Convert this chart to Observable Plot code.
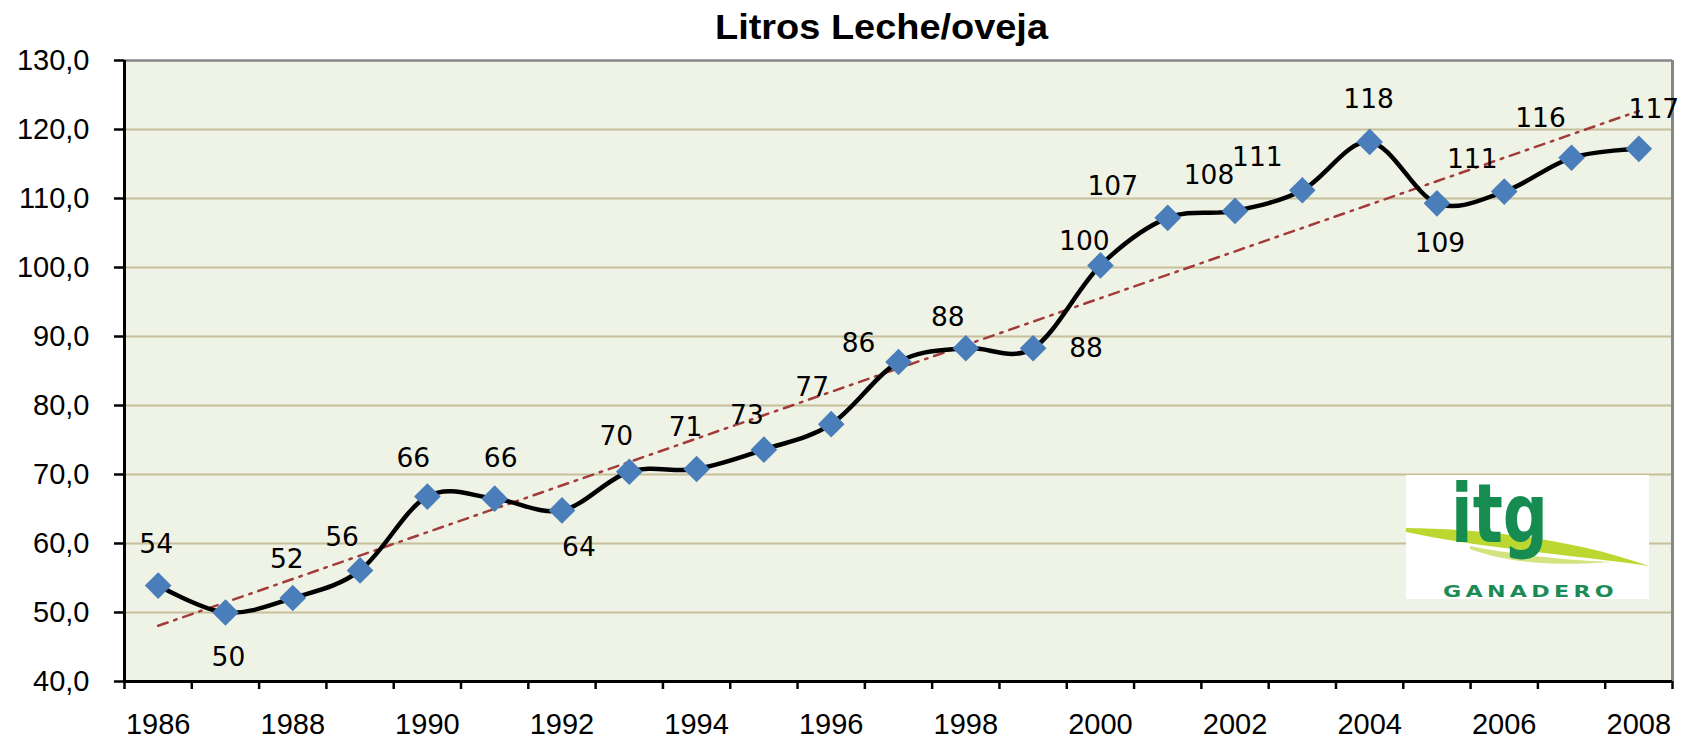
<!DOCTYPE html>
<html><head><meta charset="utf-8">
<script src="https://cdn.jsdelivr.net/npm/d3@7"></script>
<script src="https://cdn.jsdelivr.net/npm/@observablehq/plot@0.6"></script>
<style>
html,body{margin:0;padding:0;background:#fff;}
#wrap{position:relative;width:1684px;height:741px;overflow:hidden;}
#logo{position:absolute;left:0;top:0;pointer-events:none;}
</style></head><body><div id="wrap"></div>
<script>
const title = "Litros Leche/oveja";
const years = [1986,1987,1988,1989,1990,1991,1992,1993,1994,1995,1996,1997,1998,1999,2000,2001,2002,2003,2004,2005,2006,2007,2008];
const litros = [53.9,50.0,52.1,56.1,66.8,66.5,64.8,70.4,70.8,73.6,77.3,86.3,88.3,88.3,100.3,107.2,108.2,111.2,118.2,109.3,111.0,115.9,117.2];
const labels = ["54","50","52","56","66","66","64","70","71","73","77","86","88","88","100","107","108","111","118","109","111","116","117"];
const labelDx = [-2,3,-6,-18,-14,6,17,-13,-11,-17,-19,-40,-18,53,-16,-55,-26,-45,-1,3,-32,-31,15];
const labelDy = [-41,45,-38,-33,-38,-40,37,-35,-41,-34,-37,-19,-31,0,-24,-31,-35,-33,-42,40,-32,-39,-39];
const yTicks = [40,50,60,70,80,90,100,110,120,130];
const xLabelYears = [1986,1988,1990,1992,1994,1996,1998,2000,2002,2004,2006,2008];

const data = years.map((year, i) => ({year, value: litros[i], label: labels[i]}));
const boundaries = years.map(y => y - 0.5).concat([years[years.length - 1] + 0.5]);
const x0 = boundaries[0], x1 = boundaries[boundaries.length - 1];
const yMin = yTicks[0], yMax = yTicks[yTicks.length - 1];

const tickFont = "'Liberation Sans', Arial, sans-serif";
const labelFont = "'DejaVu Sans', Verdana, sans-serif";

const chart = Plot.plot({
  width: 1684, height: 741,
  marginLeft: 124, marginRight: 12, marginTop: 60, marginBottom: 60,
  style: {background: "white", overflow: "visible"},
  x: {domain: [x0, x1]},
  y: {domain: [yMin, yMax]},
  marks: [
    Plot.frame({fill: "#eff3e6", stroke: null}),
    Plot.ruleY(yTicks.filter(v => v > yMin && v < yMax), {stroke: "#c6bf99", strokeWidth: 2}),
    Plot.ruleY([yMax], {stroke: "#878787", strokeWidth: 2.5}),
    Plot.ruleX([x1], {stroke: "#878787", strokeWidth: 3}),
    Plot.linearRegressionY(data, {x: "year", y: "value", stroke: "#a33b3b", strokeWidth: 2.5, strokeDasharray: "10,7,2.5,7", ci: 0}),
    Plot.line(data, {x: "year", y: "value", curve: "cardinal", stroke: "black", strokeWidth: 4.5}),
    Plot.dot(data, {x: "year", y: "value", symbol: "diamond2", r: 12, fill: "#4a7ebb", stroke: "none"}),
    ...data.map((d, i) => Plot.text([d], {x: "year", y: "value", text: "label", dx: labelDx[i], dy: labelDy[i], fontSize: 26.5, fontFamily: labelFont, fill: "black"})),
    Plot.ruleX([x0], {stroke: "black", strokeWidth: 3}),
    Plot.ruleY([yMin], {stroke: "black", strokeWidth: 3}),
    Plot.axisY({ticks: yTicks, tickSize: 10, tickPadding: 25, tickFormat: d => d.toFixed(1).replace(".", ","), fontSize: 29, fontFamily: tickFont, strokeWidth: 2.5, stroke: "black", fill: "black", label: null}),
    Plot.axisX({ticks: boundaries, tickSize: 8, tickFormat: () => "", strokeWidth: 2.5, stroke: "black", label: null}),
    Plot.axisX({ticks: xLabelYears, tickSize: 0, tickPadding: 32, tickFormat: d => String(d), fontSize: 29, fontFamily: tickFont, fill: "black", label: null}),
    Plot.text([title], {frameAnchor: "top", dx: -17, dy: -33, lineAnchor: "middle", fontSize: 35, fontWeight: "bold", fontFamily: tickFont, fill: "black", className: "chart-title"})
  ]
});
const wrap = document.getElementById("wrap");
wrap.appendChild(chart);
// widen the title slightly, as in the reference rendering
const t = chart.querySelector(".chart-title text");
if (t) { t.setAttribute("textLength", "333"); t.setAttribute("lengthAdjust", "spacingAndGlyphs"); }
wrap.insertAdjacentHTML("beforeend", `
<svg id="logo" width="1684" height="741">
  <rect x="1406" y="475" width="243" height="124" fill="white"/>
  <path d="M1406,528 C1470,529 1560,535 1649,566 C1580,556 1480,548 1406,532 Z" fill="#bdd731"/>
  <path d="M1470,546 C1520,556 1570,560 1612,562 C1560,566 1510,564 1470,549 Z" fill="#d3e37f"/>
  <text x="1451" y="542" font-family="'DejaVu Sans', sans-serif" font-weight="bold" font-size="82" fill="#168c50" textLength="97" lengthAdjust="spacingAndGlyphs">itg</text>
  <text x="1443" y="597" font-family="'DejaVu Sans', sans-serif" font-weight="bold" font-size="15.5" fill="#1d8b56" textLength="175" lengthAdjust="spacingAndGlyphs" letter-spacing="3">GANADERO</text>
</svg>`);
</script>
</body></html>
